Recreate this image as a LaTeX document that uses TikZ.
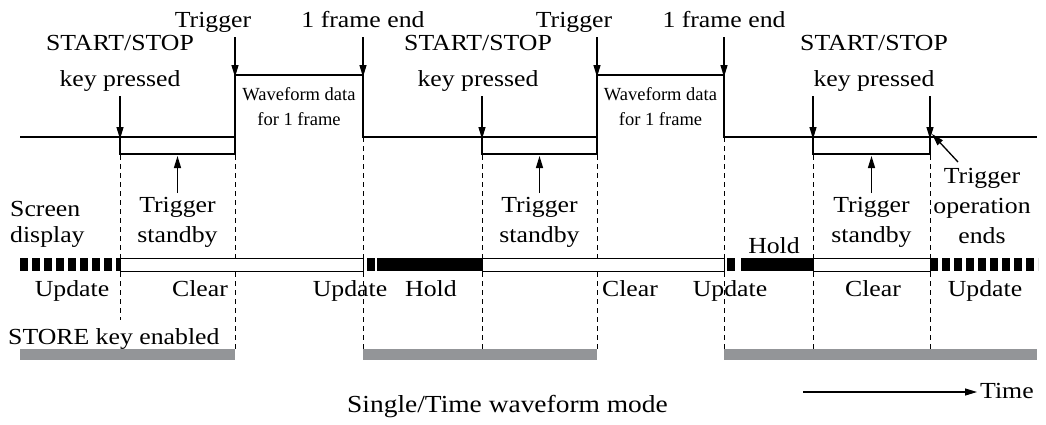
\documentclass[tikz,border=0pt]{standalone}
\usepackage{fontspec}
\setmainfont{Liberation Serif}[FakeStretch=1.12]
\newfontfamily\wffont{Liberation Serif}
\usetikzlibrary{arrows.meta}
\definecolor{bargray}{HTML}{939598}
\tikzset{
  lbl/.style={font=\fontsize{23}{30}\selectfont, inner sep=0pt, align=center},
  wflbl/.style={font=\wffont\fontsize{18.5}{25}\selectfont, inner sep=0pt, align=center},
  sig/.style={line width=2.5pt, line join=miter},
  brk/.style={line width=1.4pt},
  arr/.style={line width=1.3pt, -{Triangle[length=12pt,width=7pt]}},
  vdash/.style={line width=0.9pt, dash pattern=on 5pt off 4pt},
  blocks/.style={line width=13pt, dash pattern=on 8pt off 4pt},
  clearbox/.style={line width=1pt, fill=white},
  holdbox/.style={fill=black},
  storebar/.style={fill=bargray}
}
\begin{document}
\begin{tikzpicture}[x=1pt,y=-1pt]
\useasboundingbox (0,0) rectangle (1046,424);
% event coordinates on the signal line
\coordinate (s0) at (20,137);
\coordinate (k1) at (120,137);
\coordinate (t1) at (235,137);
\coordinate (e1) at (363,137);
\coordinate (k2) at (482,137);
\coordinate (t2) at (597,137);
\coordinate (e2) at (724,137);
\coordinate (k3) at (813,137);
\coordinate (t3) at (930,137);
\coordinate (s1) at (1037,137);

% dashed verticals
\draw[vdash] (k1) -- (120,320);
\foreach \p in {t1,e1,k2,t2,e2,k3,t3} \draw[vdash] (\p) -- ++(0,212);

% signal
\draw[sig] (s0) -- (t1) -- ++(0,-62) coordinate (t1top) -| (e1) -- (t2) -- ++(0,-62) coordinate (t2top) -| (e2) -- (s1);
\node[wflbl, anchor=base] (wf1) at (299,125) {Waveform data\\for 1 frame};
\node[wflbl, anchor=base] (wf2) at (660.5,125) {Waveform data\\for 1 frame};

% brackets
\draw[brk] (k1) -- ++(0,17) -| (t1);
\draw[brk] (k2) -- ++(0,17) -| (t2);
\draw[brk] (k3) -- ++(0,17) -| (t3);

% top labels
\node[lbl, anchor=base] (trg1) at (213,27) {Trigger};
\node[lbl, anchor=base] (trg2) at (574,27) {Trigger};
\node[lbl, anchor=base] (fe1) at (363,27) {1 frame end};
\node[lbl, anchor=base] (fe2) at (724,27) {1 frame end};
\node[lbl, anchor=base] (ss1) at (120,86) {START/STOP\\[6pt]key pressed};
\node[lbl, anchor=base] (ss2) at (478,86) {START/STOP\\[6pt]key pressed};
\node[lbl, anchor=base] (ss3) at (874,86) {START/STOP\\[6pt]key pressed};

% down arrows
\draw[arr] (120,96) -- ([yshift=-2pt]k1);
\draw[arr] (482,96) -- ([yshift=-2pt]k2);
\draw[arr] (813,96) -- ([yshift=-2pt]k3);
\draw[arr] (930,96) -- ([yshift=-2pt]t3);
\draw[arr] (235,37) -- ([yshift=-2pt]t1top);
\draw[arr] (363,37) -- ([yshift=-2pt]e1 |- t1top);
\draw[arr] (597,37) -- ([yshift=-2pt]t2top);
\draw[arr] (724,37) -- ([yshift=-2pt]e2 |- t2top);

% trigger standby
\node[lbl, anchor=base] (ts1) at (177.5,242) {Trigger\\standby};
\node[lbl, anchor=base] (ts2) at (539.5,242) {Trigger\\standby};
\node[lbl, anchor=base] (ts3) at (871.5,242) {Trigger\\standby};
\draw[arr] (177.5,193) -- (177.5,156);
\draw[arr] (539.5,193) -- (539.5,156);
\draw[arr] (871.5,193) -- (871.5,156);

% trigger operation ends
\node[lbl, anchor=base] (toe) at (982,243) {Trigger\\operation\\ends};
\draw[arr] (958,162) -- ([xshift=2pt,yshift=3pt]t3);

% screen display bar
\node[lbl, anchor=base west, align=left] (scr) at (10,242) {Screen\\[-4pt]display};
\draw[blocks] (20,264.5) -- (120,264.5);
\draw[blocks] (930,264.5) -- (1038,264.5);
\draw[clearbox] (120,258) rectangle (363,271);
\fill[holdbox] (367,258) rectangle (375,271);
\fill[holdbox] (377,258) rectangle (482,271);
\draw[clearbox] (482,258) rectangle (724,271);
\fill[holdbox] (727,258) rectangle (735,271);
\fill[holdbox] (741,258) rectangle (813,271);
\draw[clearbox] (813,258) rectangle (930,271);

\node[lbl, anchor=base] (u1) at (72,296) {Update};
\node[lbl, anchor=base] (c1) at (200,296) {Clear};
\node[lbl, anchor=base] (u2) at (350,296) {Update};
\node[lbl, anchor=base] (h1) at (431,296) {Hold};
\node[lbl, anchor=base] (c2) at (630,296) {Clear};
\node[lbl, anchor=base] (u3) at (730,296) {Update};
\node[lbl, anchor=base] (h2) at (774,253) {Hold};
\node[lbl, anchor=base] (c3) at (873,296) {Clear};
\node[lbl, anchor=base] (u4) at (985,296) {Update};

% store key enabled
\node[lbl, anchor=base west] (store) at (8,344) {STORE key enabled};
\fill[storebar] (20,349) rectangle (235,360);
\fill[storebar] (363,349) rectangle (597,360);
\fill[storebar] (724,349) rectangle (1037,360);

% time arrow and caption
\node[lbl, anchor=base west] (time) at (980,398) {Time};
\coordinate (tstart) at (803,392);
\draw[arr, line width=1.2pt] (tstart) -- ([xshift=-3pt]time.west |- tstart);
\node[lbl, anchor=base, font=\fontsize{24.5}{30}\selectfont] (cap) at (507.5,412) {Single/Time waveform mode};
\end{tikzpicture}
\end{document}
